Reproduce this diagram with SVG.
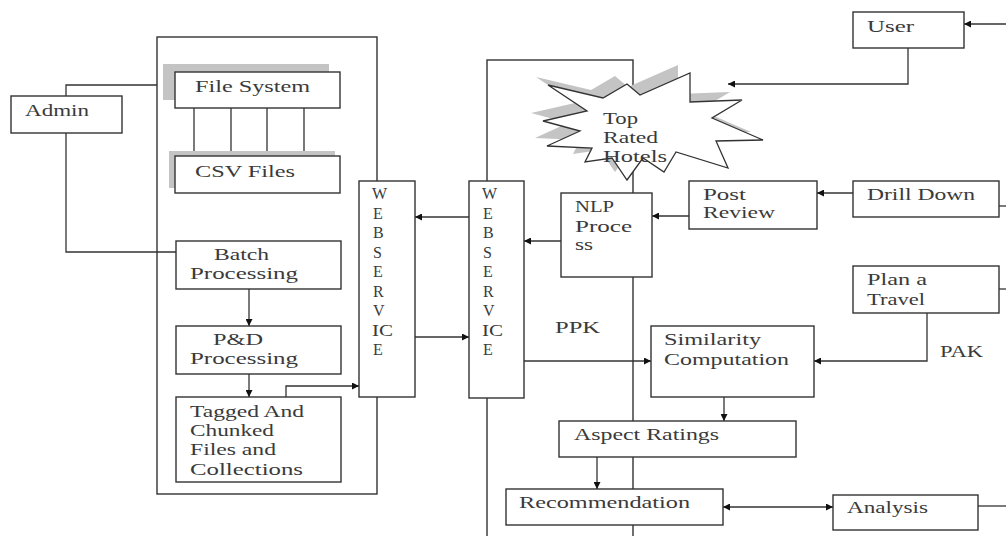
<svg xmlns="http://www.w3.org/2000/svg" width="1006" height="536" viewBox="0 0 1006 536" font-family="'Liberation Serif', 'Times New Roman', serif" font-size="16">
<style>
.box{fill:#fff;stroke:#333;stroke-width:1.4}
.cont{fill:none;stroke:#333;stroke-width:1.4}
.sh{fill:#c4c4c4;stroke:none}
.ln{fill:none;stroke:#333;stroke-width:1.3}
text{font-family:'Liberation Serif','Times New Roman',serif;font-size:16px;fill:#3a3a3a}
.ws text{font-size:16px}
</style>
<defs>
<marker id="ah" viewBox="0 0 10 10" refX="10" refY="5" markerWidth="9" markerHeight="7" markerUnits="userSpaceOnUse" orient="auto-start-reverse">
<path d="M0,0 L10,5 L0,10 z" fill="#111"/>
</marker>
</defs>
<rect width="1006" height="536" fill="#fff"/>

<g id="containers">
<rect class="cont" x="157" y="37" width="220" height="457"/>
<rect class="cont" x="487" y="60" width="146" height="490"/>
</g>

<g id="connectors">
<path class="ln" d="M66,96 V85 H157"/>
<path class="ln" d="M66,133 V252 H176"/>
<path class="ln" d="M194,108 V156 M231,108 V156 M267,108 V156 M304,108 V156"/>
<path class="ln" d="M249,289 V326" marker-end="url(#ah)"/>
<path class="ln" d="M249,374 V397" marker-end="url(#ah)"/>
<path class="ln" d="M286,397 V386 H359" marker-end="url(#ah)"/>
<path class="ln" d="M415,337 H469" marker-end="url(#ah)"/>
<path class="ln" d="M469,217 H415" marker-end="url(#ah)"/>
<path class="ln" d="M561,241 H524" marker-end="url(#ah)"/>
<path class="ln" d="M689,216 H652" marker-end="url(#ah)"/>
<path class="ln" d="M853,193 H817" marker-end="url(#ah)"/>
<path class="ln" d="M999,206 H1006"/>
<path class="ln" d="M1006,24 H964" marker-end="url(#ah)"/>
<path class="ln" d="M908,48 V84 H728" marker-end="url(#ah)"/>
<path class="ln" d="M999,289 H1006"/>
<path class="ln" d="M927,313 V361 H814" marker-end="url(#ah)"/>
<path class="ln" d="M524,361 H651" marker-end="url(#ah)"/>
<path class="ln" d="M724,397 V421" marker-end="url(#ah)"/>
<path class="ln" d="M597,457 V489" marker-end="url(#ah)"/>
<path class="ln" d="M723,507 H833" marker-start="url(#ah)" marker-end="url(#ah)"/>
<path class="ln" d="M978,506 H1006"/>
</g>

<g id="admin"><rect class="box" x="11" y="96" width="111" height="37"/><text x="25" y="116" textLength="64" lengthAdjust="spacingAndGlyphs">Admin</text></g>

<g id="file-system"><rect class="sh" x="163" y="64" width="166" height="36"/><rect class="box" x="175" y="72" width="165" height="36"/><text x="195" y="92" textLength="115" lengthAdjust="spacingAndGlyphs">File System</text></g>

<g id="csv-files"><rect class="sh" x="169" y="151" width="166" height="37"/><rect class="box" x="175" y="156" width="165" height="37"/><text x="195" y="177" textLength="100" lengthAdjust="spacingAndGlyphs">CSV Files</text></g>

<g id="batch"><rect class="box" x="176" y="241" width="165" height="48"/><text x="214" y="260" textLength="55" lengthAdjust="spacingAndGlyphs">Batch</text><text x="190" y="279" textLength="108" lengthAdjust="spacingAndGlyphs">Processing</text></g>

<g id="pd"><rect class="box" x="176" y="326" width="165" height="48"/><text x="213" y="345" textLength="50" lengthAdjust="spacingAndGlyphs">P&amp;D</text><text x="190" y="364" textLength="108" lengthAdjust="spacingAndGlyphs">Processing</text></g>

<g id="tagged"><rect class="box" x="176" y="397" width="165" height="85"/><text x="190" y="417" textLength="114" lengthAdjust="spacingAndGlyphs">Tagged And</text><text x="190" y="436" textLength="84" lengthAdjust="spacingAndGlyphs">Chunked</text><text x="190" y="455" textLength="86" lengthAdjust="spacingAndGlyphs">Files and</text><text x="190" y="475" textLength="113" lengthAdjust="spacingAndGlyphs">Collections</text></g>

<g id="webservice-left" class="ws"><rect class="box" x="359" y="181" width="56" height="216"/>
<text x="372" y="199">W</text><text x="373" y="219">E</text><text x="373" y="238">B</text><text x="373" y="257.5">S</text><text x="373" y="277">E</text><text x="373" y="296.5">R</text><text x="373" y="316">V</text><text x="372" y="335.5" textLength="21" lengthAdjust="spacingAndGlyphs">IC</text><text x="373" y="355">E</text></g>

<g id="webservice-right" class="ws"><rect class="box" x="469" y="181" width="55" height="217"/>
<text x="482" y="199">W</text><text x="483" y="219">E</text><text x="483" y="238">B</text><text x="483" y="257.5">S</text><text x="483" y="277">E</text><text x="483" y="296.5">R</text><text x="483" y="316">V</text><text x="482" y="335.5" textLength="21" lengthAdjust="spacingAndGlyphs">IC</text><text x="483" y="355">E</text></g>

<g id="top-rated-hotels">
<polygon class="sh" transform="translate(-12,-8)" points="548,85 603,98 627,84 640,95 690,73 690,102 742,100 712,118 763,140 716,141 728,168 676,152 664,172 643,158 627,180 612,158 585,162 592,148 547,146 580,131 543,121 587,111"/>
<polygon fill="#fff" stroke="#333" stroke-width="1.3" points="548,85 603,98 627,84 640,95 690,73 690,102 742,100 712,118 763,140 716,141 728,168 676,152 664,172 643,158 627,180 612,158 585,162 592,148 547,146 580,131 543,121 587,111"/>
<text x="603" y="124" textLength="35" lengthAdjust="spacingAndGlyphs">Top</text><text x="603" y="143" textLength="55" lengthAdjust="spacingAndGlyphs">Rated</text><text x="603" y="162" textLength="64" lengthAdjust="spacingAndGlyphs">Hotels</text></g>

<g id="nlp"><rect class="box" x="561" y="193" width="91" height="84"/><text x="575" y="212" textLength="39" lengthAdjust="spacingAndGlyphs">NLP</text><text x="575" y="232" textLength="57" lengthAdjust="spacingAndGlyphs">Proce</text><text x="575" y="250" textLength="18" lengthAdjust="spacingAndGlyphs">ss</text></g>

<g id="post-review"><rect class="box" x="689" y="181" width="128" height="48"/><text x="703" y="200" textLength="43" lengthAdjust="spacingAndGlyphs">Post</text><text x="703" y="218" textLength="72" lengthAdjust="spacingAndGlyphs">Review</text></g>

<g id="user"><rect class="box" x="853" y="12" width="111" height="36"/><text x="867" y="32" textLength="47" lengthAdjust="spacingAndGlyphs">User</text></g>

<g id="drill-down"><rect class="box" x="853" y="181" width="146" height="36"/><text x="867" y="200" textLength="108" lengthAdjust="spacingAndGlyphs">Drill Down</text></g>

<g id="plan-travel"><rect class="box" x="853" y="266" width="146" height="47"/><text x="867" y="285" textLength="60" lengthAdjust="spacingAndGlyphs">Plan a</text><text x="867" y="305" textLength="58" lengthAdjust="spacingAndGlyphs">Travel</text></g>

<g id="labels"><text x="940" y="357" textLength="43" lengthAdjust="spacingAndGlyphs">PAK</text><text x="555" y="333" textLength="45" lengthAdjust="spacingAndGlyphs">PPK</text></g>

<g id="similarity"><rect class="box" x="651" y="326" width="163" height="71"/><text x="664" y="345" textLength="97" lengthAdjust="spacingAndGlyphs">Similarity</text><text x="664" y="365" textLength="125" lengthAdjust="spacingAndGlyphs">Computation</text></g>

<g id="aspect-ratings"><rect class="box" x="559" y="421" width="237" height="36"/><text x="574" y="440" textLength="145" lengthAdjust="spacingAndGlyphs">Aspect Ratings</text></g>

<g id="recommendation"><rect class="box" x="506" y="489" width="217" height="36"/><text x="519" y="508" textLength="171" lengthAdjust="spacingAndGlyphs">Recommendation</text></g>

<g id="analysis"><rect class="box" x="833" y="495" width="145" height="35"/><text x="847" y="513" textLength="81" lengthAdjust="spacingAndGlyphs">Analysis</text></g>
</svg>
